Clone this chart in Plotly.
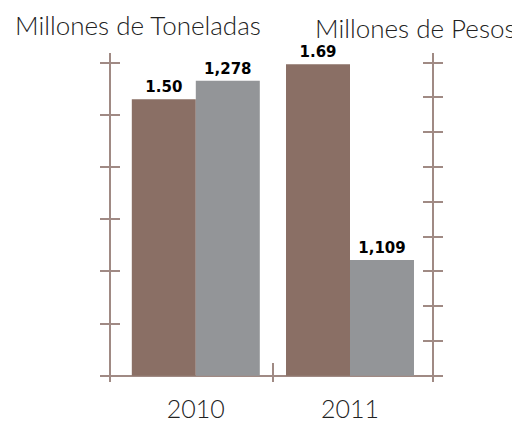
import plotly.graph_objects as go

years = ["2010", "2011"]
toneladas = [1.50, 1.69]          # Millones de Toneladas (left axis)
pesos = [1278, 1109]              # Millones de Pesos (right axis)
pesos_base = 1000                 # right axis starts at 1,000

brown = "#8a6f65"
gray = "#939598"
axis_col = "#a08a84"
txt_col = "#222222"

xpos = list(range(len(years)))
bw = 0.415

fig = go.Figure()
fig.add_trace(go.Bar(
    x=xpos, y=toneladas, width=bw, offset=-bw,
    marker=dict(color=brown, line=dict(width=0)),
    text=[f"{v:.2f}" for v in toneladas], textposition="outside",
    textfont=dict(family="DejaVu Sans", size=15, color="black", weight="bold"),
    constraintext="none", cliponaxis=False, yaxis="y", name="Millones de Toneladas",
))
fig.add_trace(go.Bar(
    x=xpos, y=[v - pesos_base for v in pesos], base=pesos_base, width=bw, offset=0,
    marker=dict(color=gray, line=dict(width=0)),
    text=[f"{v:,}" for v in pesos], textposition="outside",
    textfont=dict(family="DejaVu Sans", size=15, color="black", weight="bold"),
    constraintext="none", cliponaxis=False, yaxis="y2", name="Millones de Pesos",
))
# invisible helpers so the overlay axes (inner half of crossing ticks) render
fig.add_trace(go.Scatter(x=[None], y=[None], yaxis="y3", showlegend=False, hoverinfo="skip"))
fig.add_trace(go.Scatter(x=[None], y=[None], yaxis="y4", showlegend=False, hoverinfo="skip"))

# page layout (browser body adds an 8px offset)
OFF = 8
W, H = 520 - OFF, 422 - OFF
L = 102; R = 443; T = 53; B = 382          # page pixel positions of the plot area
pos_left = (110 - L) / (R - L)
pos_right = (433 - L) / (R - L)

s_left = 184.3
left_dtick = 52.2 / s_left
left_range = [-(B - 375.7) / s_left, (375.7 - T) / s_left]
s_right = 1.061
right_dtick = 34.8 / s_right
right_range = [pesos_base - (B - 375.7) / s_right, pesos_base + (375.7 - T) / s_right]

x_scale = 154.2
x_range = [(L - 195.8) / x_scale, (R - 195.8) / x_scale]

common_y = dict(showgrid=False, showticklabels=False, tickcolor=axis_col, tickwidth=2,
                ticklen=9, showline=True, linecolor=axis_col, linewidth=2, anchor="free",
                automargin=False)

title_font = dict(family="Lato", size=26, color=txt_col, weight=300)

fig.update_layout(
    width=W, height=H,
    margin=dict(l=L - OFF, r=W - (R - OFF), t=T - OFF, b=H - (B - OFF), pad=0),
    plot_bgcolor="white", paper_bgcolor="white",
    showlegend=False, barmode="overlay",
    xaxis=dict(range=x_range, tickmode="array", tickvals=xpos, ticktext=years,
               ticks="", showline=False, showgrid=False, zeroline=False,
               ticklabelstandoff=10, automargin=False,
               tickfont=dict(family="Lato", size=25, color=txt_col, weight=300),
               minor=dict(tickmode="array", tickvals=[0.5], ticks="inside", ticklen=19,
                          tickwidth=2, tickcolor=axis_col, showgrid=False)),
    yaxis=dict(range=left_range, tick0=0, dtick=left_dtick, ticks="outside", side="left",
               position=pos_left, zeroline=True, zerolinecolor=axis_col, zerolinewidth=2,
               **common_y),
    yaxis3=dict(range=left_range, tick0=0, dtick=left_dtick, ticks="inside", side="left",
                overlaying="y", position=pos_left, zeroline=False, **common_y),
    yaxis2=dict(range=right_range, tick0=pesos_base, dtick=right_dtick, ticks="outside",
                side="right", overlaying="y", position=pos_right, zeroline=False, **common_y),
    yaxis4=dict(range=right_range, tick0=pesos_base, dtick=right_dtick, ticks="inside",
                side="right", overlaying="y", position=pos_right, zeroline=False, **common_y),
    annotations=[
        dict(text="Millones de Toneladas", xref="paper", yref="paper",
             x=(13 - L) / (R - L), y=(B - 25.5) / (B - T),
             xanchor="left", yanchor="middle", showarrow=False, font=title_font),
        dict(text="Millones de Pesos", xref="paper", yref="paper",
             x=(518 - L) / (R - L), y=(B - 27.5) / (B - T),
             xanchor="right", yanchor="middle", showarrow=False, font=title_font),
    ],
)

fig.write_html("out.html")
